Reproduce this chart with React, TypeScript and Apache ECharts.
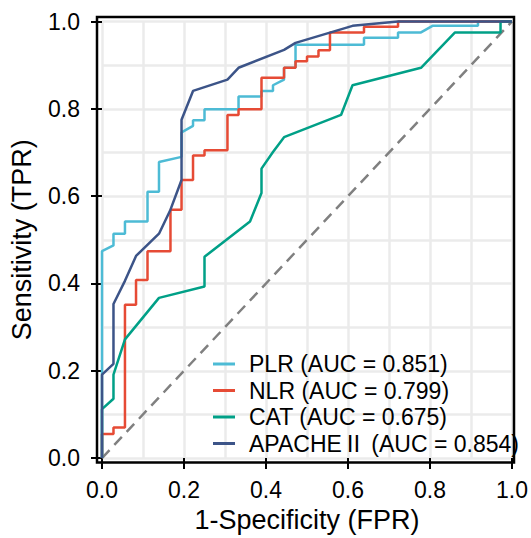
import React, { useEffect, useRef } from "react";
import * as echarts from "echarts";

// ROC curve data
const PLR_FPR = [0, 0, 0.028, 0.028, 0.056, 0.056, 0.111, 0.111, 0.139, 0.139, 0.194, 0.194, 0.222, 0.222, 0.25, 0.25, 0.333, 0.333, 0.389, 0.389, 0.417, 0.417, 0.444, 0.444, 0.472, 0.472, 0.639, 0.639, 0.722, 0.722, 0.778, 0.806, 0.917, 0.917, 1.0];
const PLR_TPR = [0, 0.474, 0.487, 0.514, 0.514, 0.542, 0.542, 0.61, 0.61, 0.678, 0.69, 0.746, 0.761, 0.774, 0.774, 0.799, 0.799, 0.828, 0.828, 0.841, 0.841, 0.854, 0.867, 0.894, 0.894, 0.947, 0.947, 0.963, 0.963, 0.975, 0.975, 0.99, 0.99, 1.0, 1.0];

const NLR_FPR = [0, 0, 0.028, 0.028, 0.056, 0.056, 0.083, 0.083, 0.111, 0.111, 0.167, 0.167, 0.194, 0.194, 0.222, 0.222, 0.25, 0.25, 0.306, 0.306, 0.333, 0.333, 0.389, 0.389, 0.444, 0.444, 0.472, 0.472, 0.5, 0.5, 0.528, 0.528, 0.556, 0.556, 0.639, 0.639, 0.722, 0.722, 1.0];
const NLR_TPR = [0, 0.055, 0.055, 0.07, 0.07, 0.351, 0.351, 0.408, 0.408, 0.474, 0.474, 0.569, 0.569, 0.637, 0.637, 0.693, 0.693, 0.705, 0.705, 0.786, 0.786, 0.799, 0.799, 0.871, 0.871, 0.894, 0.894, 0.909, 0.909, 0.92, 0.92, 0.934, 0.934, 0.975, 0.975, 0.988, 0.988, 1.0, 1.0];

const CAT_FPR = [0, 0, 0.028, 0.028, 0.056, 0.139, 0.25, 0.25, 0.361, 0.389, 0.389, 0.417, 0.444, 0.583, 0.611, 0.778, 0.861, 0.972, 0.972, 1.0];
const CAT_TPR = [0, 0.112, 0.136, 0.191, 0.272, 0.367, 0.393, 0.461, 0.542, 0.607, 0.663, 0.701, 0.735, 0.786, 0.854, 0.894, 0.975, 0.975, 1.0, 1.0];

const APACHE_FPR = [0, 0, 0.028, 0.028, 0.056, 0.083, 0.139, 0.167, 0.194, 0.194, 0.222, 0.306, 0.333, 0.444, 0.472, 0.611, 0.722, 1.0];
const APACHE_TPR = [0, 0.191, 0.216, 0.353, 0.406, 0.463, 0.514, 0.569, 0.637, 0.775, 0.841, 0.867, 0.894, 0.935, 0.951, 0.99, 1.0, 1.0];

const SERIES_NAMES = ["PLR (AUC = 0.851)", "NLR (AUC = 0.799)", "CAT (AUC = 0.675)", "APACHEⅡ (AUC = 0.854)"];
const COLORS = ["#4DBBD5", "#E64B35", "#00A087", "#3C5488"];
const REF_LINE = [[0, 0], [1, 1]];

const X_TITLE = "1-Specificity (FPR)";
const Y_TITLE = "Sensitivity (TPR)";

const zip = (xs: number[], ys: number[]) => xs.map((x, i) => [x, ys[i]]);

const FONT = "'Liberation Sans', Arial, 'Noto Sans CJK SC', sans-serif";

export default function App() {
  const ref = useRef<HTMLDivElement>(null);
  useEffect(() => {
    if (!ref.current) return;
    const chart = echarts.init(ref.current, null, { renderer: "svg" });
    const curves = [
      zip(PLR_FPR, PLR_TPR),
      zip(NLR_FPR, NLR_TPR),
      zip(CAT_FPR, CAT_TPR),
      zip(APACHE_FPR, APACHE_TPR),
    ];
    const axisCommon = {
      type: "value" as const,
      min: 0,
      max: 1,
      interval: 0.2,
      axisLine: { show: false },
      axisTick: { show: true, length: 11, lineStyle: { color: "#000", width: 2 } },
      splitLine: { show: true, lineStyle: { color: "#EBEBEB", width: 2.5 } },
      minorTick: { show: false, splitNumber: 2 },
      minorSplitLine: { show: true, lineStyle: { color: "#EBEBEB", width: 2.5 } },
    };
    chart.setOption({
      animation: false,
      backgroundColor: "#fff",
      grid: { left: 100, right: 17, top: 21.5, bottom: 75.5 },
      xAxis: {
        ...axisCommon,
        name: X_TITLE,
        nameLocation: "middle",
        nameGap: 42,
        nameTextStyle: { fontSize: 27, color: "#000", fontFamily: FONT },
        axisLabel: {
          fontSize: 23,
          color: "#000",
          margin: 20,
          fontFamily: FONT,
          formatter: (v: number) => v.toFixed(1),
        },
      },
      yAxis: {
        ...axisCommon,
        offset: 3,
        name: Y_TITLE,
        nameLocation: "middle",
        nameGap: 64,
        nameTextStyle: { fontSize: 27, color: "#000", fontFamily: FONT },
        axisLabel: {
          fontSize: 23,
          color: "#000",
          margin: 19,
          fontFamily: FONT,
          formatter: (v: number) => v.toFixed(1),
        },
      },
      legend: {
        orient: "vertical",
        left: 213,
        top: 352.5,
        itemWidth: 22,
        itemHeight: 3,
        itemGap: 3.5,
        icon: "rect",
        align: "left",
        padding: 0,
        data: SERIES_NAMES,
        textStyle: { fontSize: 23, lineHeight: 23, color: "#000", fontFamily: FONT, padding: [0, 0, 0, 9] },
      },
      graphic: [
        {
          type: "rect",
          z: 100,
          silent: true,
          shape: { x: 97, y: 17, width: 417, height: 445.5 },
          style: { fill: "none", stroke: "#000", lineWidth: 2.5 },
        },
      ],
      series: [
        ...curves.map((d, i) => ({
          name: SERIES_NAMES[i],
          type: "line",
          data: d,
          symbol: "none",
          showSymbol: false,
          clip: false,
          color: COLORS[i],
          lineStyle: { color: COLORS[i], width: 2.5 },
          z: 3 + i,
        })),
        {
          name: "ref",
          type: "line",
          data: REF_LINE,
          symbol: "none",
          showSymbol: false,
          lineStyle: { color: "#808080", width: 2.5, type: [11, 7] },
          z: 2,
          silent: true,
        },
      ],
    });
    return () => chart.dispose();
  }, []);
  return <div ref={ref} style={{ width: 531, height: 538, position: "absolute", left: 0, top: 0 }} />;
}
